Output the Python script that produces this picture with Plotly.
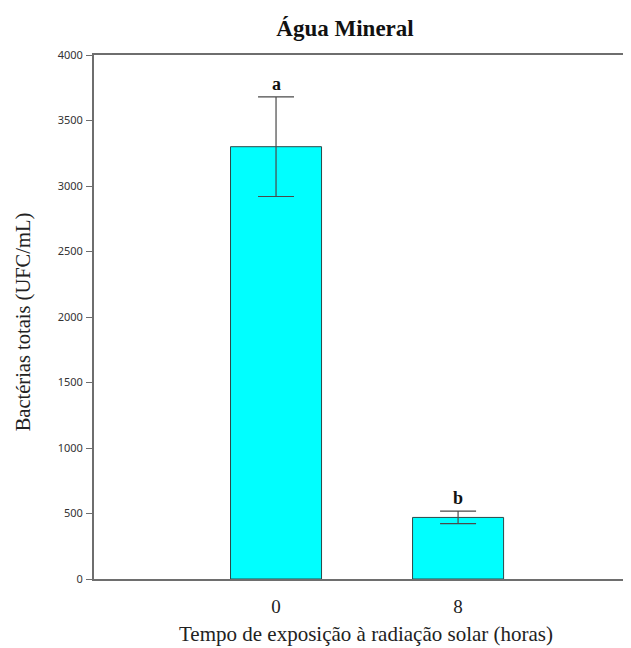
import plotly.graph_objects as go

categories = ["0", "8"]
means = [3300, 470]
errors = [380, 48]
letters = ["a", "b"]

serif = "Liberation Serif, Times New Roman, serif"

fig = go.Figure()
fig.add_trace(go.Bar(
    x=categories, y=means, width=0.5,
    marker=dict(color="#00FFFF", line=dict(color="#2B4A4A", width=1)),
    error_y=dict(type="data", array=errors, visible=True, color="#4A4A4A",
                 thickness=1.2, width=18),
    showlegend=False,
))

annots = []
annots.append(dict(text="Bactérias totais (UFC/mL)", x=-0.132, y=0.49, xref="paper", yref="paper",
                   textangle=-90, showarrow=False, xanchor="center", yanchor="middle",
                   font=dict(family=serif, size=20.5, color="#222")))
annots.append(dict(text="Tempo de exposição à radiação solar (horas)", x=0.507, y=-0.105,
                   xref="paper", yref="paper", showarrow=False, xanchor="center", yanchor="middle",
                   font=dict(family=serif, size=21, color="#222")))
for i, (m, e, l) in enumerate(zip(means, errors, letters)):
    annots.append(dict(x=i, y=m + e, text="<b>%s</b>" % l, showarrow=False, yshift=13,
                       font=dict(family=serif, size=18, color="#111"), xref="x", yref="y"))

fig.update_layout(
    width=623, height=640,
    margin=dict(l=86, r=0, t=47, b=69),
    paper_bgcolor="white", plot_bgcolor="white",
    title=dict(text="<b>Água Mineral</b>", x=0.541, xanchor="center", y=0.969, yanchor="middle",
               font=dict(family=serif, size=23, color="#111")),
    annotations=annots,
    xaxis=dict(type="category", range=[-1, 1.95], showline=True, linecolor="#6E6E6E",
               linewidth=2, mirror=True, ticks="", showgrid=False, zeroline=False,
               tickfont=dict(family=serif, size=19, color="#222"), ticklabelstandoff=9),
    yaxis=dict(range=[0, 4000], tickvals=[0, 500, 1000, 1500, 2000, 2500, 3000, 3500, 4000],
               showline=True, linecolor="#6E6E6E", linewidth=2, ticks="outside", ticklen=6,
               tickcolor="#6E6E6E", tickwidth=1, showgrid=False, zeroline=False,
               tickfont=dict(family="Noto Sans, DejaVu Sans, sans-serif", size=11, color="#333"),
               ticklabelstandoff=1),
)

fig.write_html("out.html")
